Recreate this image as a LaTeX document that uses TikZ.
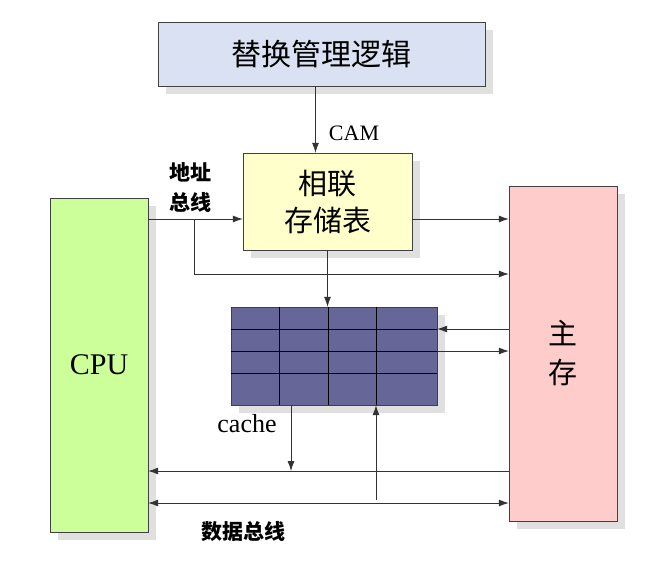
\documentclass[tikz,border=0pt]{standalone}
\usepackage{fontspec}
\setmainfont{Liberation Serif}
\newfontfamily\cjk{Noto Sans CJK SC}
\usetikzlibrary{arrows.meta,shadows}

\definecolor{replfill}{HTML}{D9E1F2}
\definecolor{camfill}{HTML}{FFFFCC}
\definecolor{cpufill}{HTML}{CCFF99}
\definecolor{memfill}{HTML}{FFCCCC}
\definecolor{cachefill}{HTML}{666699}
\definecolor{edge}{HTML}{404040}

\tikzset{
  box/.style={draw=edge,rectangle,inner sep=0pt,
    drop shadow={shadow xshift=8pt,shadow yshift=-8pt,fill=black!12,opacity=1}},
  bus/.style={draw=black!80,line width=0.8pt,-{Latex[length=10pt,width=7pt]}},
  lab/.style={inner sep=0pt,font=\fontsize{21}{30}\selectfont\cjk\bfseries,align=center}
}

\begin{document}
\begin{tikzpicture}[x=1pt,y=-1pt]
  \useasboundingbox (0,0) rectangle (663,562);

  \node[box,fill=replfill,minimum width=327,minimum height=64,
        font=\fontsize{30}{34}\selectfont\cjk] (repl) at (321.5,54) {替换管理逻辑};
  \node[box,fill=camfill,minimum width=169,minimum height=97,align=center,
        font=\fontsize{29}{37}\selectfont\cjk] (cam) at (327.5,201.5) {相联\\存储表};
  \node[box,fill=cpufill,minimum width=98,minimum height=334,
        font=\fontsize{30}{34}\selectfont] (cpu) at (99,365) {CPU};
  \node[box,fill=memfill,minimum width=108,minimum height=335,align=center,
        font=\fontsize{29}{39}\selectfont\cjk] (mem) at (563,353.5) {主\\存};
  \node[box,fill=cachefill,minimum width=206,minimum height=98] (cache) at (334,356) {};

  \foreach \x in {279,328,376}
    \draw[line width=0.8pt] (cache.north -| \x,0) -- (cache.south -| \x,0);
  \foreach \y in {329,351,373}
    \draw[line width=0.8pt] (cache.west |- 0,\y) -- (cache.east |- 0,\y);

  \coordinate (ya) at (0,219);
  \coordinate (yb) at (0,274);
  \coordinate (yc) at (0,329);
  \coordinate (yd) at (0,351);
  \coordinate (ye) at (0,471);
  \coordinate (yf) at (0,503);
  \coordinate (tap) at (194,219);
  \coordinate (drop) at (291,0);
  \coordinate (rise) at (376,500);

  \draw[bus] ([xshift=-6pt]repl.south) -- ([xshift=-6pt]repl.south |- cam.north);
  \draw[bus] (cpu.east |- ya) -- (cam.west |- ya);
  \draw[bus] (tap) |- (mem.west |- yb);
  \draw[bus] (cam.east |- ya) -- (mem.west |- ya);
  \draw[bus] (cam.south) -- (cam.south |- cache.north);
  \draw[bus] (mem.west |- yc) -- (cache.east |- yc);
  \draw[bus] (cache.east |- yd) -- (mem.west |- yd);
  \draw[bus] (cache.south -| drop) -- (ye -| drop);
  \draw[bus] (mem.west |- ye) -- (cpu.east |- ye);
  \draw[bus,{Latex[length=10pt,width=7pt]}-{Latex[length=10pt,width=7pt]}]
    (cpu.east |- yf) -- (mem.west |- yf);
  \draw[bus] (rise) -- (cache.south -| rise);

  \node[font=\fontsize{22}{24}\selectfont] (camlab) at (354,133) {CAM};
  \node[lab] (abus) at (190,188) {地址\\总线};
  \node[font=\fontsize{26}{28}\selectfont] (cachelab) at (247,424) {cache};
  \node[lab] (dbus) at (243,532) {数据总线};
\end{tikzpicture}
\end{document}
